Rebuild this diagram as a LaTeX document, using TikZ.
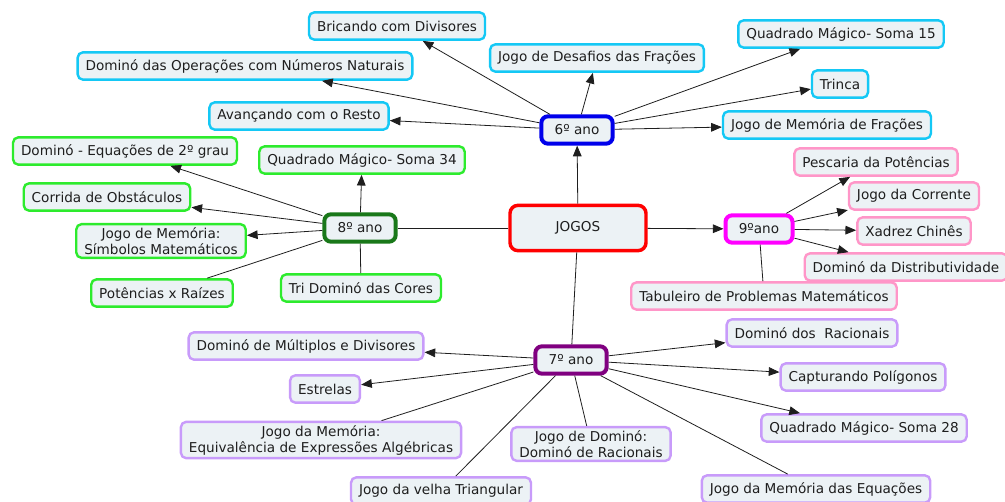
\documentclass[tikz,border=0pt]{standalone}
\usepackage{fontspec}
\setmainfont{DejaVu Sans}
\usetikzlibrary{arrows.meta}

\definecolor{boxfill}{RGB}{236,242,245}
\definecolor{txtgray}{RGB}{30,30,30}
\definecolor{linkgray}{RGB}{30,30,30}
\definecolor{sixcyan}{RGB}{20,200,245}
\definecolor{sixblue}{RGB}{0,0,235}
\definecolor{eightgreen}{RGB}{45,235,45}
\definecolor{eightdark}{RGB}{25,120,25}
\definecolor{ninepink}{RGB}{255,150,200}
\definecolor{ninemag}{RGB}{255,0,255}
\definecolor{sevenlav}{RGB}{200,155,250}
\definecolor{sevenpurple}{RGB}{128,0,128}
\definecolor{rootred}{RGB}{255,0,0}

\begin{document}
\begin{tikzpicture}[x=0.75pt,y=-0.75pt,
  leaf/.style={draw=#1,line width=1.8pt,fill=boxfill,rounded corners=4pt,
    inner xsep=6pt,inner ysep=2.5pt,minimum height=20.5pt,align=center,
    text=txtgray,font=\fontsize{10.2}{12}\selectfont},
  yearbox/.style={leaf=#1,line width=3pt,rounded corners=5pt,inner xsep=10pt},
  link/.style={draw=linkgray,line width=0.6pt,-{Triangle[length=8pt,width=6.5pt]}},
  plain/.style={draw=linkgray,line width=0.6pt}]

  \useasboundingbox (0,0) rectangle (1005,502);

  % ================= raiz =================
  \node[leaf=rootred,line width=2.6pt,rounded corners=6pt,minimum width=102pt,minimum height=34pt] (jogos) at (578,228) {JOGOS};

  % ================= anos =================
  \node[yearbox=sixblue] (ano6) at (577,130) {6º ano};
  \node[yearbox=eightdark] (ano8) at (360,228) {8º ano};
  \node[yearbox=ninemag] (ano9) at (759,229) {9ºano};
  \node[yearbox=sevenpurple] (ano7) at (571,360) {7º ano};

  % ================= 6º ano =================
  \node[leaf=sixcyan] (bricando) at (397,26) {Bricando com Divisores};
  \node[leaf=sixcyan] (operacoes) at (245,66) {Dominó das Operações com Números Naturais};
  \node[leaf=sixcyan] (resto) at (299,116) {Avançando com o Resto};
  \node[leaf=sixcyan] (desafios) at (597,58) {Jogo de Desafios das Frações};
  \node[leaf=sixcyan] (quinze) at (841,34) {Quadrado Mágico- Soma 15};
  \node[leaf=sixcyan] (trinca) at (840,84) {Trinca};
  \node[leaf=sixcyan] (memfracoes) at (827,125) {Jogo de Memória de Frações};

  % ================= 8º ano =================
  \node[leaf=eightgreen] (segundograu) at (125,151) {Dominó - Equações de 2º grau};
  \node[leaf=eightgreen] (trintaquatro) at (362,160) {Quadrado Mágico- Soma 34};
  \node[leaf=eightgreen] (corrida) at (107,197) {Corrida de Obstáculos};
  \node[leaf=eightgreen] (simbolos) at (161,241) {Jogo de Memória:\\Símbolos Matemáticos};
  \node[leaf=eightgreen] (raizes) at (162,293) {Potências x Raízes};
  \node[leaf=eightgreen] (cores) at (361,288) {Tri Dominó das Cores};

  % ================= 9º ano =================
  \node[leaf=ninepink] (pescaria) at (876,162) {Pescaria da Potências};
  \node[leaf=ninepink] (corrente) at (914,196) {Jogo da Corrente};
  \node[leaf=ninepink] (xadrez) at (914,231) {Xadrez Chinês};
  \node[leaf=ninepink] (distrib) at (906,267) {Dominó da Distributividade};
  \node[leaf=ninepink] (tabuleiro) at (764,296) {Tabuleiro de Problemas Matemáticos};

  % ================= 7º ano =================
  \node[leaf=sevenlav] (multiplos) at (306,346) {Dominó de Múltiplos e Divisores};
  \node[leaf=sevenlav] (estrelas) at (325,389) {Estrelas};
  \node[leaf=sevenlav] (algebricas) at (321,440) {Jogo da Memória:\\Equivalência de Expressões Algébricas};
  \node[leaf=sevenlav] (velha) at (441,491) {Jogo da velha Triangular};
  \node[leaf=sevenlav] (racdomino) at (591,444) {Jogo de Dominó:\\Dominó de Racionais};
  \node[leaf=sevenlav] (racionais) at (812,333) {Dominó dos\ \ Racionais};
  \node[leaf=sevenlav] (poligonos) at (863,377) {Capturando Polígonos};
  \node[leaf=sevenlav] (vinteoito) at (864,428) {Quadrado Mágico- Soma 28};
  \node[leaf=sevenlav] (equacoes) at (816,489) {Jogo da Memória das Equações};

  % ================= ligações =================
  \draw[link] (jogos) -- (ano6);
  \draw[link] (jogos) -- (ano9);
  \draw[plain] (jogos) -- (ano8);
  \draw[plain] (jogos) -- (ano7);

  \foreach \alvo in {bricando,operacoes,resto,desafios,quinze,trinca,memfracoes}
    \draw[link] (ano6) -- (\alvo);

  \foreach \alvo in {segundograu,trintaquatro,corrida,simbolos}
    \draw[link] (ano8) -- (\alvo);
  \draw[plain] (ano8) -- (raizes);
  \draw[plain] (ano8) -- (cores);

  \foreach \alvo in {pescaria,corrente,xadrez,distrib}
    \draw[link] (ano9) -- (\alvo);
  \draw[plain] (ano9) -- (tabuleiro);

  \foreach \alvo in {multiplos,estrelas,racionais,poligonos,vinteoito}
    \draw[link] (ano7) -- (\alvo);
  \foreach \alvo in {algebricas,velha,racdomino,equacoes}
    \draw[plain] (ano7) -- (\alvo);

\end{tikzpicture}
\end{document}
